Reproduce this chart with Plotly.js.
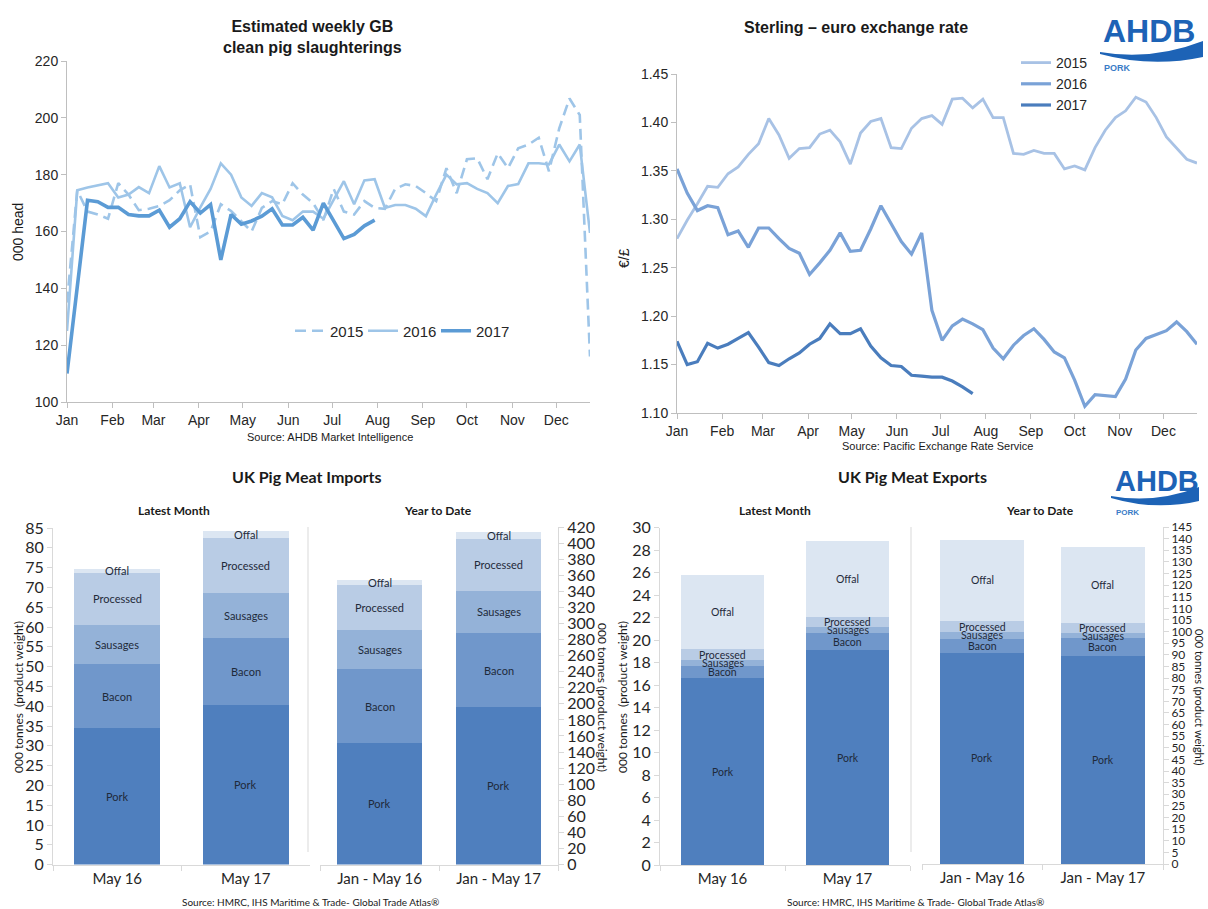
<!DOCTYPE html>
<html>
<head>
<meta charset="utf-8">
<script src="https://cdn.plot.ly/plotly-3.0.1.min.js"></script>
<style>html,body{margin:0;padding:0;background:#fff;}#chart{width:1208px;height:909px;}</style>
</head>
<body>
<div id="chart"></div>
<script>
// ---------- DATA ----------
const monthLabels = ['Jan','Feb','Mar','Apr','May','Jun','Jul','Aug','Sep','Oct','Nov','Dec'];
const monthWeekPos = [0, 4.43, 8.43, 12.86, 17.14, 21.57, 25.86, 30.29, 34.71, 39, 43.43, 47.71];

const weeks = [0,1,2,3,4,5,6,7,8,9,10,11,12,13,14,15,16,17,18,19,20,21,22,23,24,25,26,27,28,29,30,31,32,33,34,35,36,37,38,39,40,41,42,43,44,45,46,47,48,49,50,51];
const weeks2017 = [0,2,3,4,5,6,7,8,9,10,11,12,13,14,15,16,17,18,19,20,21,22,23,24,25,26,27,28,29,30];
const fxWeeks2017 = [0,1,2,3,4,5,6,7,8,9,10,11,12,13,14,15,16,17,18,19,20,21,22,23,24,25,26,27,28,29];

const slaughter2015 = [135,174.5,167,166,164.5,177,173,167.5,168,169,171,174.5,176.6,158,160,169.6,167.2,163.7,160,168.3,170.7,169.6,177,173,170,164,175,167,166,170.7,168.3,168,175,176.6,176,173.5,170.7,182.3,173.5,185.4,185.8,178.4,187.5,182.3,189.3,190.6,193,181.2,196.3,206.8,201,116];
const slaughter2016 = [125,174.5,175.5,176.3,177,172,173,175.6,173.5,183,175.5,177,161.5,168.5,175,184,180,172,169,173.5,172,165.5,164,167,167,164.5,171,177.7,169.6,178,178.4,168.3,169.3,169.3,168,165.4,173,180,176.6,177,175,173.5,170,176,176.7,184,184,183.6,190.6,184.7,190.6,159.5];
const slaughter2017 = [110,171,170.5,168.5,168.5,166,165.5,165.5,167.5,161.5,164.5,170.5,166.5,169.5,150,166,162.6,163.7,165.4,168,162.3,162.3,165,160.5,170,163.7,157.5,159,162,164];

const fx2015 = [1.280,1.299,1.316,1.334,1.333,1.347,1.354,1.367,1.378,1.404,1.387,1.363,1.373,1.374,1.388,1.392,1.380,1.357,1.389,1.401,1.404,1.374,1.373,1.394,1.404,1.407,1.398,1.424,1.425,1.415,1.424,1.405,1.405,1.368,1.367,1.371,1.368,1.368,1.352,1.355,1.351,1.374,1.392,1.405,1.412,1.426,1.421,1.405,1.385,1.374,1.362,1.358];
const fx2016 = [1.352,1.327,1.309,1.314,1.312,1.284,1.288,1.271,1.291,1.291,1.280,1.270,1.265,1.243,1.255,1.268,1.286,1.267,1.268,1.290,1.314,1.295,1.277,1.264,1.286,1.206,1.175,1.190,1.197,1.192,1.186,1.167,1.156,1.170,1.180,1.187,1.176,1.163,1.157,1.134,1.107,1.119,1.118,1.117,1.135,1.165,1.177,1.181,1.185,1.194,1.184,1.171];
const fx2017 = [1.174,1.150,1.153,1.172,1.167,1.171,1.177,1.183,1.168,1.152,1.149,1.156,1.162,1.171,1.177,1.192,1.182,1.182,1.187,1.169,1.157,1.149,1.148,1.139,1.138,1.137,1.137,1.133,1.127,1.120];

const segments = ['Pork','Bacon','Sausages','Processed','Offal'];
const monthCats = ['May 16','May 17'];
const ytdCats = ['Jan - May 16','Jan - May 17'];

const impMonthPork = [34.5, 40.3];
const impMonthBacon = [16.1, 16.8];
const impMonthSausages = [10.0, 11.4];
const impMonthProcessed = [13.1, 14.1];
const impMonthOffal = [1.0, 1.7];

const impYtdPork = [151, 196];
const impYtdBacon = [92, 92];
const impYtdSausages = [49, 53];
const impYtdProcessed = [56, 64];
const impYtdOffal = [6, 9];

const expMonthPork = [16.6, 19.1];
const expMonthBacon = [1.1, 1.5];
const expMonthSausages = [0.5, 0.6];
const expMonthProcessed = [1.0, 0.9];
const expMonthOffal = [6.6, 6.7];

const expYtdPork = [91, 89.5];
const expYtdBacon = [6, 7.6];
const expYtdSausages = [2.7, 2.4];
const expYtdProcessed = [4.8, 4.3];
const expYtdOffal = [35, 32.5];

// ---------- LAYOUT HELPERS ----------
const W = 1208, H = 909;
const px = x => x / W;
const py = y => 1 - y / H;
const ARIAL = 'Liberation Sans, Arial, sans-serif';
const CAL = 'Lato, Open Sans, sans-serif';
const segColors = ['#4f7fbe', '#7097cb', '#94b2d8', '#b9cce5', '#dce6f2'];

const traces = [];
// Top-left slaughterings
traces.push({x: weeks, y: slaughter2015, xaxis:'x', yaxis:'y', mode:'lines', name:'2015', legend:'legend',
  line:{color:'#9ec5e8', width:2.6, dash:'11px,6px'}});
traces.push({x: weeks, y: slaughter2016, xaxis:'x', yaxis:'y', mode:'lines', name:'2016', legend:'legend',
  line:{color:'#9ec5e8', width:2.6}});
traces.push({x: weeks2017, y: slaughter2017, xaxis:'x', yaxis:'y', mode:'lines', name:'2017', legend:'legend',
  line:{color:'#5b9bd5', width:3.6}});
// Top-right exchange rate
traces.push({x: weeks, y: fx2015, xaxis:'x2', yaxis:'y2', mode:'lines', name:'2015', legend:'legend2',
  line:{color:'#a8c2e5', width:2.8}});
traces.push({x: weeks, y: fx2016, xaxis:'x2', yaxis:'y2', mode:'lines', name:'2016', legend:'legend2',
  line:{color:'#7aa2d7', width:3.2}});
traces.push({x: fxWeeks2017, y: fx2017, xaxis:'x2', yaxis:'y2', mode:'lines', name:'2017', legend:'legend2',
  line:{color:'#4a7dbd', width:3.2}});

const annotations = [];
function txt(text, x, y, size, opts) {
  annotations.push(Object.assign({text, x: px(x), y: py(y), xref:'paper', yref:'paper', showarrow:false,
    xanchor:'center', yanchor:'middle', font:{family: ARIAL, size, color:'#1a1a1a'}}, opts || {}));
}

function addStack(panel, cats, xa, ya, width, labelSize) {
  const base = [0, 0];
  panel.forEach((vals, s) => {
    traces.push({type:'bar', x: cats, y: vals, xaxis: xa, yaxis: ya, name: segments[s], showlegend:false,
      width: width, marker:{color: segColors[s], line:{width:0}}, hoverinfo:'none'});
    vals.forEach((v, i) => {
      annotations.push({text: segments[s], x: cats[i], y: base[i] + v / 2, xref: xa, yref: ya,
        showarrow:false, xanchor:'center', yanchor:'middle', font:{family: CAL, size: labelSize, color:'#1f2a3a'}});
      base[i] += v;
    });
  });
}
addStack([impMonthPork, impMonthBacon, impMonthSausages, impMonthProcessed, impMonthOffal], monthCats, 'x3', 'y3', 0.67, 11);
addStack([impYtdPork, impYtdBacon, impYtdSausages, impYtdProcessed, impYtdOffal], ytdCats, 'x4', 'y4', 0.71, 11);
addStack([expMonthPork, expMonthBacon, expMonthSausages, expMonthProcessed, expMonthOffal], monthCats, 'x5', 'y5', 0.66, 10.5);
addStack([expYtdPork, expYtdBacon, expYtdSausages, expYtdProcessed, expYtdOffal], ytdCats, 'x6', 'y6', 0.7, 10.5);

// Titles and labels
txt('<b>Estimated weekly GB</b><br><b>clean pig slaughterings</b>', 312, 37, 16);
txt('<b>Sterling – euro exchange rate</b>', 856, 27, 16);
txt('000 head', 18, 232, 14, {textangle: -90});
txt('€/£', 624, 258, 14, {textangle: -90});
txt('Source: AHDB Market Intelligence', 330, 437, 11);
txt('Source: Pacific Exchange Rate Service', 937, 446, 11);

txt('<b>UK Pig Meat Imports</b>', 307, 476, 16, {font:{family: CAL, size: 16, color:'#1a1a1a'}});
txt('<b>UK Pig Meat Exports</b>', 912, 476, 16, {font:{family: CAL, size: 16, color:'#1a1a1a'}});
txt('<b>Latest Month</b>', 174, 510, 12, {font:{family: CAL, size: 12, color:'#1a1a1a'}});
txt('<b>Year to Date</b>', 438, 510, 12, {font:{family: CAL, size: 12, color:'#1a1a1a'}});
txt('<b>Latest Month</b>', 775, 510, 12, {font:{family: CAL, size: 12, color:'#1a1a1a'}});
txt('<b>Year to Date</b>', 1040, 510, 12, {font:{family: CAL, size: 12, color:'#1a1a1a'}});
txt('000 tonnes  (product weight)', 18, 697, 12, {textangle: -90, font:{family: CAL, size: 12, color:'#1a1a1a'}});
txt('000 tonnes (product weight)', 603, 697, 12, {textangle: 90, font:{family: CAL, size: 12, color:'#1a1a1a'}});
txt('000 tonnes  (product weight)', 622, 697, 12, {textangle: -90, font:{family: CAL, size: 12, color:'#1a1a1a'}});
txt('000 tonnes (product weight)', 1200, 697, 11, {textangle: 90, font:{family: CAL, size: 11, color:'#1a1a1a'}});
txt('Source: HMRC, IHS Maritime & Trade- Global Trade Atlas®', 310, 902, 10, {font:{family: CAL, size: 10, color:'#1a1a1a'}});
txt('Source: HMRC, IHS Maritime & Trade- Global Trade Atlas®', 915, 902, 10, {font:{family: CAL, size: 10, color:'#1a1a1a'}});

// AHDB logos
const logoBlue = '#1d63b6';
txt('<b>AHDB</b>', 1101, 31, 32, {xanchor:'left', font:{family: ARIAL, size: 32, color: logoBlue}});
txt('<b>PORK</b>', 1102, 68, 9, {xanchor:'left', font:{family: ARIAL, size: 9, color:'#3a7cc7'}});
txt('<b>AHDB</b>', 1113, 481, 29, {xanchor:'left', font:{family: ARIAL, size: 29, color: logoBlue}});
txt('<b>PORK</b>', 1114, 512, 8, {xanchor:'left', font:{family: ARIAL, size: 8, color:'#3a7cc7'}});

function wavePath(x0, y0, x1, yTop, yBot, dip) {
  const P = (x, y) => px(x) + ',' + py(y);
  const xm = (x0 + x1) / 2;
  return 'M' + P(x0, y0) + ' Q' + P(xm, y0 + dip) + ' ' + P(x1, yTop) + ' L' + P(x1, yBot) +
         ' Q' + P(xm, y0 + dip + 7) + ' ' + P(x0, y0 + 2) + ' Z';
}
const shapes = [
  {type:'path', xref:'paper', yref:'paper', path: wavePath(1100, 52, 1203, 41, 57, 9), fillcolor: logoBlue, line:{width:0}},
  {type:'path', xref:'paper', yref:'paper', path: wavePath(1111, 496, 1199, 487, 501, 8), fillcolor: logoBlue, line:{width:0}},
  {type:'line', xref:'paper', yref:'paper', x0: px(308), x1: px(308), y0: py(527), y1: py(852), line:{color:'#d9d9d9', width:1}},
  {type:'line', xref:'paper', yref:'paper', x0: px(911), x1: px(911), y0: py(527), y1: py(852), line:{color:'#d9d9d9', width:1}}
];

const lineAxis = {showline:true, linecolor:'#bfbfbf', linewidth:1, ticks:'outside', ticklen:5, tickcolor:'#bfbfbf',
  showgrid:false, zeroline:false, fixedrange:true, tickfont:{family: ARIAL, size: 14, color:'#262626'}};
const barY = {showline:true, linecolor:'#d9d9d9', linewidth:1, ticks:'outside', ticklen:5, tickcolor:'#d9d9d9',
  showgrid:false, zeroline:false, fixedrange:true, tickfont:{family: CAL, size: 16, color:'#262626'}};
const barX = {type:'category', showline:true, linecolor:'#d9d9d9', linewidth:1, ticks:'outside', ticklen:5,
  tickcolor:'#d9d9d9', tickson:'boundaries', showgrid:false, zeroline:false, fixedrange:true,
  tickfont:{family: CAL, size: 15, color:'#262626'}};

const layout = {
  width: W, height: H, margin:{l:0, r:0, t:0, b:0}, paper_bgcolor:'#ffffff', plot_bgcolor:'rgba(0,0,0,0)',
  barmode:'stack', showlegend:true, hovermode:false,
  xaxis: Object.assign({}, lineAxis, {domain:[px(67), px(590)], range:[0, 51], anchor:'y',
    tickmode:'array', tickvals: monthWeekPos, ticktext: monthLabels}),
  yaxis: Object.assign({}, lineAxis, {domain:[py(402), py(61)], range:[100, 220], dtick:20, anchor:'x'}),
  xaxis2: Object.assign({}, lineAxis, {domain:[px(677), px(1197)], range:[0, 51], anchor:'y2',
    tickmode:'array', tickvals: monthWeekPos, ticktext: monthLabels}),
  yaxis2: Object.assign({}, lineAxis, {domain:[py(413), py(74)], range:[1.10, 1.45], dtick:0.05, tickformat:'.2f', anchor:'x2'}),
  xaxis3: Object.assign({}, barX, {domain:[px(53), px(310)], anchor:'y3'}),
  yaxis3: Object.assign({}, barY, {domain:[py(864.6), py(528)], range:[0, 85], dtick:5, anchor:'x3'}),
  xaxis4: Object.assign({}, barX, {domain:[px(320), px(558)], anchor:'y4'}),
  yaxis4: Object.assign({}, barY, {domain:[py(864.6), py(527)], range:[0, 420], dtick:20, anchor:'x4', side:'right'}),
  xaxis5: Object.assign({}, barX, {domain:[px(660), px(910)], anchor:'y5'}),
  yaxis5: Object.assign({}, barY, {domain:[py(865), py(527.7)], range:[0, 30], dtick:2, anchor:'x5'}),
  xaxis6: Object.assign({}, barX, {domain:[px(922), px(1163)], anchor:'y6'}),
  yaxis6: Object.assign({}, barY, {domain:[py(864), py(527)], range:[0, 145], dtick:5, anchor:'x6', side:'right',
    tickfont:{family: CAL, size: 12, color:'#262626'}}),
  legend: {orientation:'h', x: px(290), y: py(331), xanchor:'left', yanchor:'middle', bgcolor:'rgba(0,0,0,0)',
    font:{family: ARIAL, size: 15, color:'#262626'}, itemwidth:30, traceorder:'normal',
    entrywidth:28, entrywidthmode:'pixels'},
  legend2: {orientation:'v', x: px(1016), y: py(47), xanchor:'left', yanchor:'top', bgcolor:'rgba(0,0,0,0)',
    font:{family: ARIAL, size: 14, color:'#262626'}, itemwidth:30, tracegroupgap:0, traceorder:'normal'},
  annotations: annotations,
  shapes: shapes
};

Plotly.newPlot('chart', traces, layout, {displayModeBar:false, staticPlot:true});
</script>
</body>
</html>
